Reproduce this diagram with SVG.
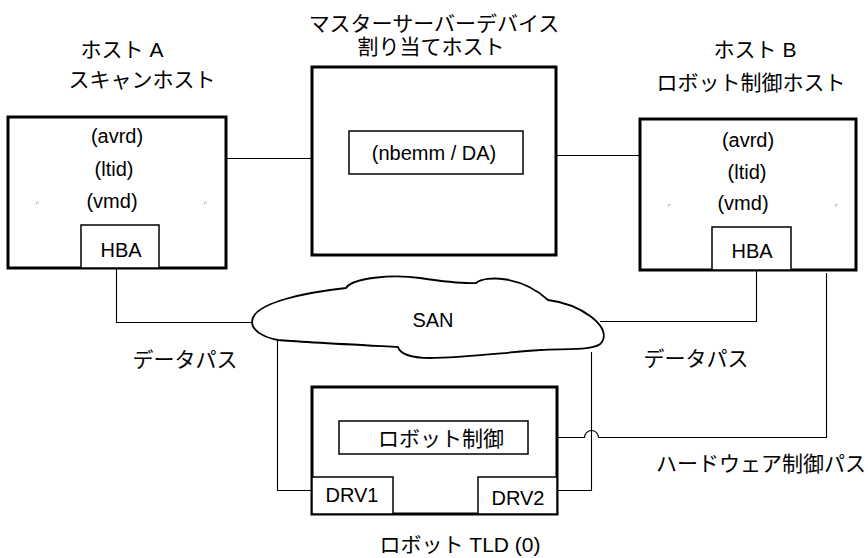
<svg xmlns="http://www.w3.org/2000/svg" width="868" height="558" viewBox="0 0 868 558">
<style>
text{font-family:"Liberation Sans","Noto Sans CJK JP",sans-serif;font-size:20px;fill:#000;text-anchor:middle}
.jp{font-size:21px}
.big{fill:#fff;stroke:#000;stroke-width:3}
.small{fill:#fff;stroke:#000;stroke-width:1.5}
.ln{fill:none;stroke:#000;stroke-width:1.1}
.mk{fill:none;stroke:#bbb;stroke-width:1}
.cloud{fill:#fff;stroke:#000;stroke-width:1.8}
</style>
<rect width="868" height="558" fill="#fff"/>
<g id="connectors">
<path class="ln" d="M226,158.5 H349"/>
<path class="ln" d="M523,155.5 H640"/>
<path class="ln" d="M116.5,268 V322.5 H252"/>
<path class="ln" d="M756.5,270 V321.5 H600"/>
<path class="ln" d="M277.5,340 V490.5 H312"/>
<path class="ln" d="M591.5,352 V490.5 H557"/>
<path class="ln" d="M528,437.5 H584.5 A7,7 0 0 1 598.5,437.5 H826.5 V273"/>
</g>
<g id="hostA">
<rect class="big" x="8" y="117" width="218" height="151"/>
<path class="mk" d="M36.5,205 V202.5 H39 M204.5,205 V202.5 H207"/>
<rect class="small" x="81" y="225" width="78" height="43"/>
<text class="jp" x="122" y="57">ホスト A</text>
<text class="jp" x="142" y="87">スキャンホスト</text>
<text x="117" y="143">(avrd)</text>
<text x="114" y="176">(ltid)</text>
<text x="112" y="208">(vmd)</text>
<text x="121" y="257">HBA</text>
</g>
<g id="master">
<rect class="big" x="312" y="67" width="244" height="188"/>
<text class="jp" x="434" y="31">マスターサーバーデバイス</text>
<text class="jp" x="431" y="54">割り当てホスト</text>
</g>
<g id="nbemm">
<rect class="small" x="349" y="131" width="174" height="43"/>
<text x="434" y="160">(nbemm / DA)</text>
</g>
<g id="hostB">
<rect class="big" x="640" y="119" width="216" height="151"/>
<path class="mk" d="M668.5,207 V204.5 H671 M835.5,207 V204.5 H838"/>
<rect class="small" x="712" y="227" width="79" height="43"/>
<text class="jp" x="755" y="57">ホスト B</text>
<text class="jp" x="751" y="90">ロボット制御ホスト</text>
<text x="748" y="147">(avrd)</text>
<text x="747" y="179">(ltid)</text>
<text x="743" y="210">(vmd)</text>
<text x="752" y="258">HBA</text>
</g>
<g id="san">
<path class="cloud" d="M252,322 C252,302 310,292 346,288 C352,278 392,274 420,278 C440,281 460,284 476,283 C486,275 522,276 548,300 C580,304 612,326 602,342 C596,352 560,348 540,350 C500,353 460,358 430,358 C412,358 400,354 398,347 C360,345 300,342 278,340 C262,337 252,330 252,322 Z"/>
<text x="433" y="327">SAN</text>
</g>
<g id="tld">
<rect class="big" x="312" y="387" width="245" height="127"/>
<text class="jp" x="460" y="552">ロボット TLD (0)</text>
</g>
<g id="robotctl">
<rect class="small" x="339" y="421" width="189" height="33"/>
<text class="jp" x="441" y="446">ロボット制御</text>
</g>
<g id="drv1">
<rect class="small" x="312" y="477" width="81" height="37"/>
<text x="352" y="502">DRV1</text>
</g>
<g id="drv2">
<rect class="small" x="478" y="477" width="79" height="37"/>
<text x="518" y="505">DRV2</text>
</g>
<g id="labels">
<text class="jp" x="185" y="367">データパス</text>
<text class="jp" x="696" y="366">データパス</text>
<text class="jp" x="656" y="471" style="text-anchor:start">ハードウェア制御パス</text>
</g>
</svg>
